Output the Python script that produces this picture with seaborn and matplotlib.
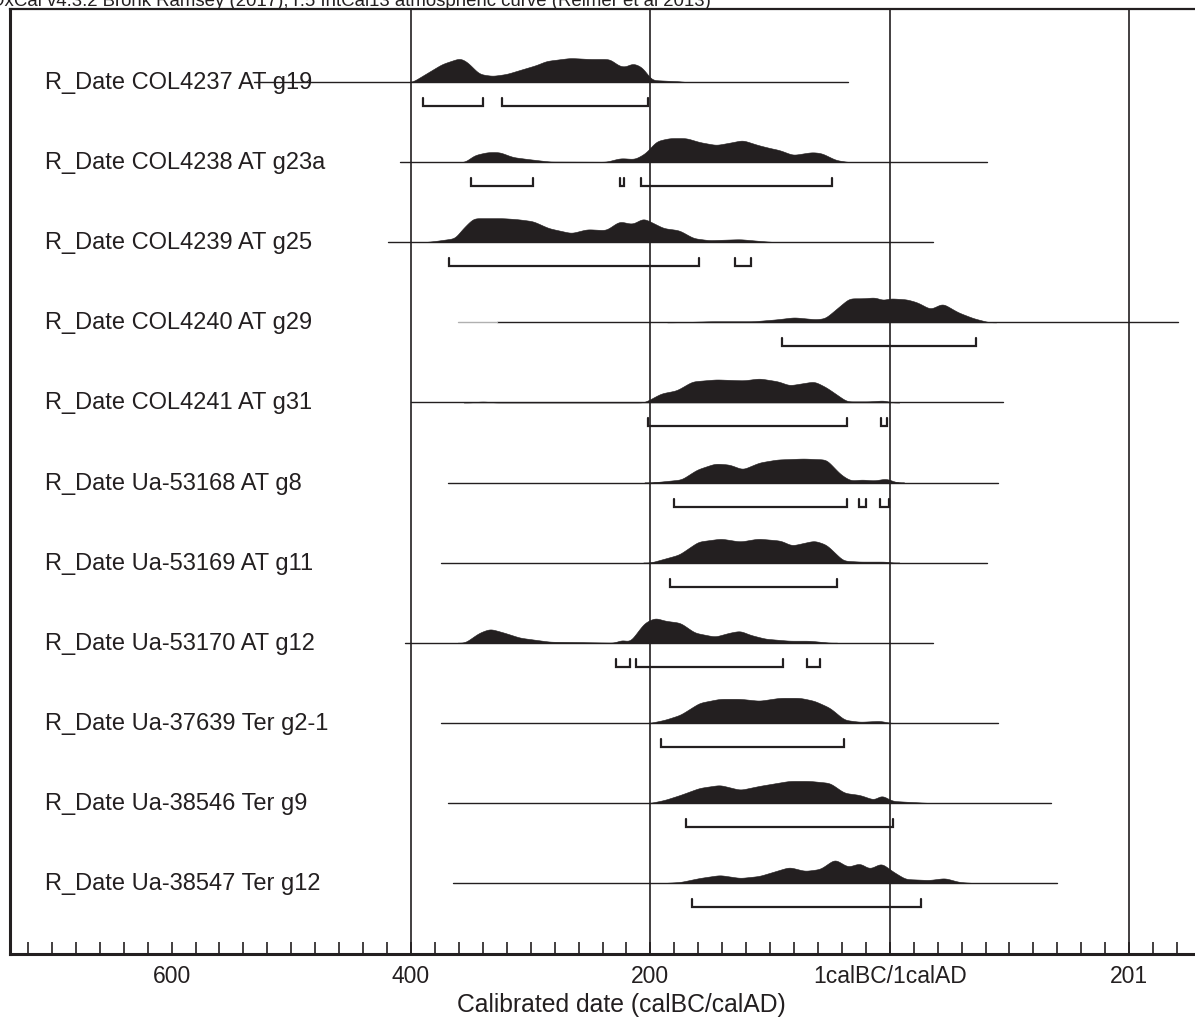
import numpy as np
import matplotlib
matplotlib.use("Agg")
import matplotlib.pyplot as plt
import seaborn as sns

# sample names
labels = [
    "R_Date COL4237 AT g19",
    "R_Date COL4238 AT g23a",
    "R_Date COL4239 AT g25",
    "R_Date COL4240 AT g29",
    "R_Date COL4241 AT g31",
    "R_Date Ua-53168 AT g8",
    "R_Date Ua-53169 AT g11",
    "R_Date Ua-53170 AT g12",
    "R_Date Ua-37639 Ter g2-1",
    "R_Date Ua-38546 Ter g9",
    "R_Date Ua-38547 Ter g12",
]

# extent of each likelihood baseline (calBC negative, calAD positive)
line_start = [-531, -409, -419, -328, -400, -369, -375, -405, -375, -369, -365]
line_end = [-35, 81, 36, 241, 95, 90, 81, 36, 90, 135, 140]

# posterior distributions (year, relative height)
dist_years = [
    [-399, -374, -359, -353, -343, -332, -320, -309, -295, -287, -267, -251, -234, -226, -221, -215, -207, -199, -173],
    [-355, -347, -336, -326, -315, -302, -284, -237, -225, -213, -204, -195, -184, -170, -159, -145, -131, -123, -110, -100, -92, -81, -65, -57, -45, -34],
    [-390, -381, -363, -358, -348, -340, -323, -311, -298, -285, -266, -253, -237, -226, -215, -206, -199, -189, -176, -164, -151, -125, -106, -94],
    [-180, -150, -114, -94, -80, -62, -54, -46, -34, -22, -12, -6, 0, 14, 23, 34, 44, 57, 70, 83],
    [-350, -340, -330, -205, -191, -178, -165, -145, -122, -109, -93, -84, -63, -53, -36, -17, -5, 2],
    [-199, -174, -161, -146, -134, -123, -109, -94, -72, -53, -41, -33, -23, -13, -3, 6],
    [-200, -176, -160, -141, -125, -110, -91, -82, -63, -53, -39, -25, -3, 2],
    [-355, -343, -334, -322, -309, -284, -230, -224, -217, -205, -196, -188, -175, -163, -146, -134, -125, -117, -104, -84, -67, -50],
    [-200, -188, -175, -159, -142, -125, -109, -92, -75, -63, -50, -38, -25, -8, 0],
    [-200, -188, -175, -159, -142, -125, -109, -84, -67, -50, -38, -25, -13, -7, 2, 17, 33],
    [-190, -175, -159, -142, -125, -109, -84, -71, -58, -46, -35, -25, -17, -7, 2, 13, 33, 46, 58, 71],
]
dist_heights = [
    [0, 18, 24, 20, 8, 6, 8, 12, 17, 21, 24, 23, 23, 16, 15, 19, 15, 2, 0.5],
    [0, 7, 10, 10, 5, 3, 0.5, 0.3, 4, 3, 9, 21, 24, 24, 20, 17, 20, 22, 17, 14, 12, 7, 10, 9, 2, 0],
    [0, 1, 4, 12, 24, 24, 24, 23, 21, 14, 9, 13, 12, 21, 18, 24, 20, 14, 12, 4, 2, 3, 1, 0],
    [0, 1, 1, 3, 5, 3, 4, 12, 24, 24, 25, 22, 24, 23, 20, 13, 19, 10, 4, 0],
    [0, 1, 0, 0, 9, 12, 21, 23, 22, 24, 21, 17, 21, 15, 1, 1, 2, 0],
    [0, 3, 13, 19, 18, 13, 20, 23, 24, 23, 8, 2, 3, 2, 4, 0],
    [0, 8, 21, 24, 21, 24, 22, 17, 22, 18, 2, 1, 1, 0],
    [0, 10, 14, 10, 5, 1, 0, 3, 1, 20, 25, 22, 20, 10, 6, 10, 12, 8, 4, 2, 2, 0],
    [0, 3, 8, 20, 24, 24, 22, 25, 25, 22, 15, 3, 1, 2, 0],
    [0, 3, 8, 15, 18, 13, 17, 22, 22, 20, 10, 8, 3, 8, 2, 1, 0],
    [0, 1, 5, 8, 5, 7, 16, 12, 14, 24, 16, 20, 14, 20, 12, 4, 3, 5, 1, 0],
]

# 95.4% ranges under each distribution
ranges = [
    [(-390, -340), (-324, -202)],
    [(-350, -298), (-225, -222), (-208, -48)],
    [(-368, -159), (-129, -116)],
    [(-90, 72)],
    [(-202, -36), (-7, -2)],
    [(-180, -36), (-26, -20), (-8, -1)],
    [(-184, -44)],
    [(-229, -217), (-212, -89), (-69, -58)],
    [(-191, -38)],
    [(-170, 3)],
    [(-165, 26)],
]

tick_years = [-600, -400, -200, 0, 200]
tick_labels = ["600", "400", "200", "1calBC/1calAD", "201"]
grid_years = [-400, -200, 0, 200]

ink = "#231f20"
px = 1 / 80.1  # one pixel in row units

sns.set_theme(style="white")
plt.rcParams["font.family"] = ["Liberation Sans", "DejaVu Sans"]

fig = plt.figure(figsize=(11.95, 10.2), dpi=100)
ax = fig.add_axes([10 / 1195, 65 / 1020, 1185 / 1195, 945 / 1020])

for x in grid_years:
    ax.axvline(x, color=ink, lw=1.2, zorder=1)

# light rounding of the outlines so they read like the OxCal curves
kern = np.exp(-0.5 * (np.arange(-6, 7) / 2.5) ** 2)
kern /= kern.sum()

for k, name in enumerate(labels):
    ax.text(-706, k, name, fontsize=17, color=ink, va="center", ha="left", zorder=2)
    sns.lineplot(x=[line_start[k], line_end[k]], y=[k, k], ax=ax, color=ink, lw=1.0, zorder=3)
    yrs = np.array(dist_years[k], dtype=float)
    grid = np.arange(yrs[0] - 6, yrs[-1] + 7, 1.0)
    hh = np.interp(grid, yrs, np.array(dist_heights[k], dtype=float), left=0, right=0)
    hh = np.convolve(hh, kern, mode="same")
    ax.fill_between(grid, k, k - hh * px, color=ink, lw=0.4, zorder=4)
    for a, b in ranges[k]:
        yb = k + 24 * px
        ax.plot([a, a, b, b], [yb - 8 * px, yb, yb, yb - 8 * px], color=ink, lw=1.6,
                solid_joinstyle="miter", zorder=4)

# row 4 has a faint lead-in on the likelihood line
ax.plot([-361, -328], [3, 3], color="#b0b0b0", lw=1.0, zorder=3)

ax.set_xlim(-735, 255)
ax.set_ylim(10.886, -0.911)
ax.set_yticks([])
ax.set_xticks(tick_years)
ax.set_xticklabels(tick_labels)
ax.set_xticks(np.arange(-720, 255, 20), minor=True)
ax.tick_params(axis="x", which="both", direction="in", length=9, width=1.2, color=ink,
               labelsize=16.5, labelcolor=ink, pad=7, bottom=True)
ax.set_xlabel("Calibrated date (calBC/calAD)", fontsize=17.8, color=ink)
ax.xaxis.set_label_coords((621 - 10) / 1185, -0.040)
ax.xaxis.label.set_va("top")

for side in ["left", "bottom", "top"]:
    ax.spines[side].set_color(ink)
ax.spines["left"].set_linewidth(2.2)
ax.spines["bottom"].set_linewidth(2.2)
ax.spines["top"].set_linewidth(1.6)
ax.spines["right"].set_visible(False)

fig.text(-0.008, 0.999, "OxCal v4.3.2 Bronk Ramsey (2017); r:5 IntCal13 atmospheric curve (Reimer et al 2013)",
         fontsize=13.4, color=ink, va="center", ha="left")

fig.savefig("out.png", dpi=100)
